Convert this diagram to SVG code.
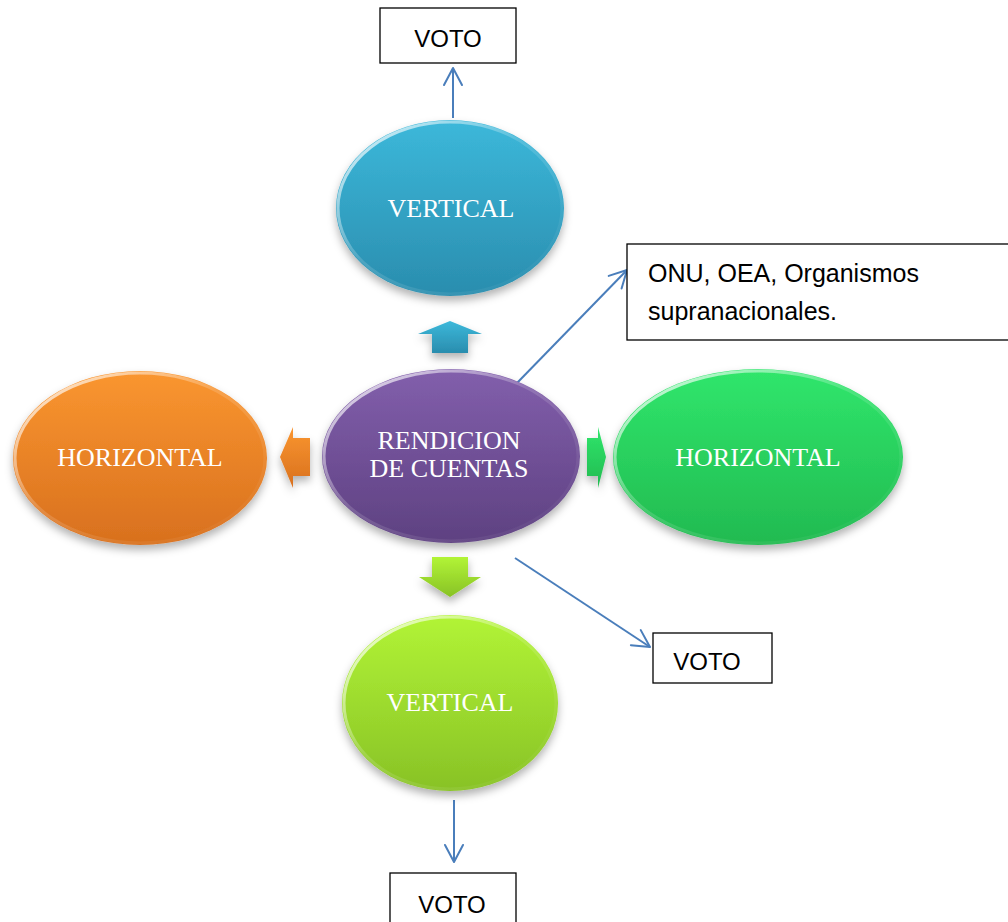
<svg xmlns="http://www.w3.org/2000/svg" width="1008" height="922" viewBox="0 0 1008 922">
  <style>
    .lbl { font-family: "Liberation Serif", "Times New Roman", serif; font-size: 26px; fill: #ffffff; text-anchor: middle; }
    .box { fill: #ffffff; stroke: #000000; stroke-width: 1.3; }
    .boxtxt { font-family: "Liberation Sans", Arial, sans-serif; font-size: 24px; fill: #000000; }
    .conn { stroke: #4A7EBB; stroke-width: 2; fill: none; }
    .sheen { fill: none; stroke: url(#sheen); stroke-width: 3; }
  </style>
  <defs>
    <filter id="shadow" x="-20%" y="-20%" width="140%" height="150%">
      <feDropShadow dx="0" dy="5" stdDeviation="4" flood-color="#000" flood-opacity="0.3"/>
    </filter>
    <linearGradient id="sheen" x1="0" y1="0" x2="1" y2="1">
      <stop offset="0" stop-color="#fff" stop-opacity="0.9"/>
      <stop offset="0.45" stop-color="#fff" stop-opacity="0.15"/>
      <stop offset="1" stop-color="#fff" stop-opacity="0"/>
    </linearGradient>
    <linearGradient id="gCyan" x1="0" y1="0" x2="0" y2="1">
      <stop offset="0" stop-color="#3CB8DA"/><stop offset="1" stop-color="#2A8DAE"/>
    </linearGradient>
    <linearGradient id="gPurple" x1="0" y1="0" x2="0" y2="1">
      <stop offset="0" stop-color="#825FAC"/><stop offset="1" stop-color="#5E4181"/>
    </linearGradient>
    <linearGradient id="gOrange" x1="0" y1="0" x2="0" y2="1">
      <stop offset="0" stop-color="#FA9630"/><stop offset="1" stop-color="#D8701E"/>
    </linearGradient>
    <linearGradient id="gGreen" x1="0" y1="0" x2="0" y2="1">
      <stop offset="0" stop-color="#30E66C"/><stop offset="1" stop-color="#22BA50"/>
    </linearGradient>
    <linearGradient id="gLime" x1="0" y1="0" x2="0" y2="1">
      <stop offset="0" stop-color="#B2F436"/><stop offset="1" stop-color="#88C226"/>
    </linearGradient>
    <marker id="chev" viewBox="-20 -12 22 24" refX="0" refY="0" markerWidth="22" markerHeight="24" markerUnits="userSpaceOnUse" orient="auto" overflow="visible">
      <path d="M-17,-9 L0,0 L-17,9" fill="none" stroke="#4A7EBB" stroke-width="2" stroke-linecap="round" stroke-linejoin="round"/>
    </marker>
  </defs>

  <g id="connectors">
    <line class="conn" x1="453" y1="118" x2="453" y2="68" marker-end="url(#chev)"/>
    <line class="conn" x1="517" y1="383" x2="627" y2="270" marker-end="url(#chev)"/>
    <line class="conn" x1="515" y1="558" x2="650" y2="647" marker-end="url(#chev)"/>
    <line class="conn" x1="454" y1="800" x2="454" y2="862" marker-end="url(#chev)"/>
    <g filter="url(#shadow)">
      <path d="M450,321 L482,334 L468,334 L468,353 L432,353 L432,334 L418,334 Z" fill="url(#gCyan)"/>
      <path d="M280,457 L293,427 L293,438 L310,438 L310,476 L293,476 L293,488 Z" fill="url(#gOrange)"/>
      <path d="M606,457 L598,427 L598,438 L587,438 L587,476 L598,476 L598,488 Z" fill="url(#gGreen)"/>
      <path d="M432,557 L468,557 L468,577 L481,577 L450,597 L419,577 L432,577 Z" fill="url(#gLime)"/>
    </g>
  </g>

  <g id="node-vertical-top">
    <ellipse cx="450" cy="208" rx="114" ry="88" fill="url(#gCyan)" filter="url(#shadow)"/>
    <ellipse class="sheen" cx="450" cy="208" rx="112" ry="86"/>
    <text class="lbl" x="451" y="217">VERTICAL</text>
  </g>

  <g id="node-center">
    <ellipse cx="451" cy="456" rx="129" ry="87" fill="url(#gPurple)" filter="url(#shadow)"/>
    <ellipse class="sheen" cx="451" cy="456" rx="127" ry="85"/>
    <text class="lbl" x="449" y="449">RENDICION</text>
    <text class="lbl" x="449" y="477">DE CUENTAS</text>
  </g>

  <g id="node-horizontal-left">
    <ellipse cx="140" cy="458" rx="127" ry="87" fill="url(#gOrange)" filter="url(#shadow)"/>
    <ellipse class="sheen" cx="140" cy="458" rx="125" ry="85"/>
    <text class="lbl" x="140" y="466">HORIZONTAL</text>
  </g>

  <g id="node-horizontal-right">
    <ellipse cx="758" cy="457" rx="145" ry="88" fill="url(#gGreen)" filter="url(#shadow)"/>
    <ellipse class="sheen" cx="758" cy="457" rx="143" ry="86"/>
    <text class="lbl" x="758" y="466">HORIZONTAL</text>
  </g>

  <g id="node-vertical-bottom">
    <ellipse cx="450" cy="703" rx="108" ry="88" fill="url(#gLime)" filter="url(#shadow)"/>
    <ellipse class="sheen" cx="450" cy="703" rx="106" ry="86"/>
    <text class="lbl" x="450" y="711">VERTICAL</text>
  </g>

  <g id="box-voto-top">
    <rect class="box" x="380" y="8" width="136" height="55"/>
    <text class="boxtxt" x="448" y="47" text-anchor="middle">VOTO</text>
  </g>

  <g id="box-onu">
    <rect class="box" x="627" y="244" width="390" height="96"/>
    <text class="boxtxt" x="648" y="282" style="font-size:25px">ONU, OEA, Organismos</text>
    <text class="boxtxt" x="648" y="320" style="font-size:25px">supranacionales.</text>
  </g>

  <g id="box-voto-right">
    <rect class="box" x="653" y="633" width="119" height="50"/>
    <text class="boxtxt" x="707" y="670" text-anchor="middle">VOTO</text>
  </g>

  <g id="box-voto-bottom">
    <rect class="box" x="390" y="873" width="126" height="60"/>
    <text class="boxtxt" x="452" y="913" text-anchor="middle">VOTO</text>
  </g>
</svg>
